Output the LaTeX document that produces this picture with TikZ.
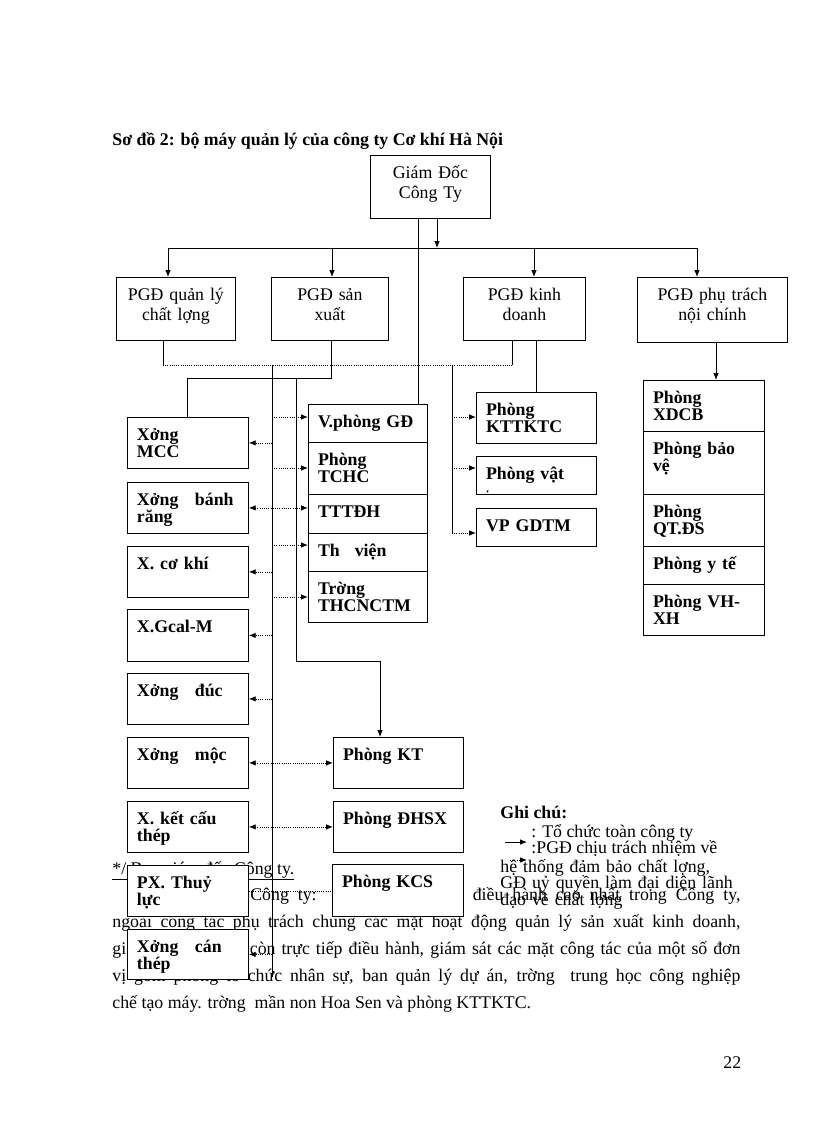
\documentclass[tikz,border=0pt]{standalone}
\usepackage{fontspec}
\setmainfont{Liberation Serif}
\usetikzlibrary{arrows.meta}

\def\h{0.7302pt}
\def\punkt#1#2{({(#1)*\h},{-(#2)*\h})}

\tikzset{
  hop/.style={draw, fill=white, anchor=north west, align=left, inner xsep=7pt, inner ysep=0pt,
    text height=16.8pt, font=\fontsize{13}{12.8}\selectfont\bfseries},
  pgd/.style={hop, align=center, font=\fontsize{13}{14.5}\selectfont},
  chu/.style={inner sep=0pt, anchor=base west, font=\fontsize{13}{12.4}\selectfont},
  nhanh/.style={densely dotted},
}

% style, name, x, y, width, height, text
\newcommand\khoi[7]{%
  \pgfmathsetlengthmacro\kw{(#5)*\h-14pt}%
  \pgfmathsetlengthmacro\kd{(#6)*\h-16.8pt}%
  \node[#1, text width=\kw, text depth=\kd] (#2) at \punkt{#3}{#4} {#7};}
% name, x, y
\newcommand\diem[3]{\path \punkt{#2}{#3} coordinate (#1);}

\begin{document}
\begin{tikzpicture}[>={Latex[length=5pt,width=4pt]}, line width=0.6pt]
\useasboundingbox \punkt{0}{0} rectangle \punkt{816}{1123};

\node[chu, font=\fontsize{13}{13}\selectfont\bfseries] (tieude) at \punkt{112}{146}
  {Sơ đồ 2: bộ máy quản lý của công ty Cơ khí Hà Nội};

% van ban duoi so do
\pgfmathsetlengthmacro\vbw{628*\h}
\node[chu, text width=\vbw, align=justify, font=\fontsize{13}{19.7}\selectfont] (vanban) at \punkt{112}{874}
  {\underline{*/ Ban giám đốc Công ty.}\par
   \hspace*{40pt}Giám đốc Công ty: là ngời có quyền điều hành cao nhất trong Công ty,\linebreak
   ngoài công tác phụ trách chung các mặt hoạt động quản lý sản xuất kinh doanh,\linebreak
   giám đốc Công ty còn trực tiếp điều hành, giám sát các mặt công tác của một số đơn\linebreak
   vị gồm phòng tổ chức nhân sự, ban quản lý dự án, trờng\ \ trung học công nghiệp\linebreak
   chế tạo máy. trờng\ \ mần non Hoa Sen và phòng KTTKTC.};

% ghi chu
\node[chu, font=\fontsize{13}{13}\selectfont\bfseries] (ghichu) at \punkt{500}{818} {Ghi chú:};
\node[chu] (gc1) at \punkt{531}{837} {: Tổ chức toàn công ty};
\node[chu] (gc2) at \punkt{531}{853} {:PGĐ chịu trách nhiệm về};
\pgfmathsetlengthmacro\gcw{260*\h}
\node[chu, text width=\gcw, align=left] (gc3) at \punkt{500}{872}
  {hệ thống đảm bảo chất lợng,\\GĐ uỷ quyền làm đại diện lãnh\\đạo về chất lợng};
\diem{mt1}{505}{842}
\diem{mt2}{527}{842}
\draw[->] (mt1) -- (mt2);
\diem{mt3}{510}{860}
\diem{mt4}{527}{860}
\draw[nhanh,->] (mt3) -- (mt4);

\node[chu] (trang) at \punkt{723}{1068} {22};

% lanh dao
\khoi{pgd}{gd}{370}{155}{120}{63}{Giám Đốc\\Công Ty}
\khoi{pgd}{pgd1}{116}{277}{119}{63}{PGĐ quản lý\\ chất lợng}
\khoi{pgd}{pgd2}{271}{277}{117}{63}{PGĐ sản\\xuất}
\khoi{pgd}{pgd3}{463}{277}{122}{63}{PGĐ kinh\\doanh}
\khoi{pgd}{pgd4}{637}{277}{150}{65}{PGĐ phụ trách\\nội chính}

% cac xuong
\khoi{hop}{mcc}{127}{417}{121}{51}{Xởng\\MCC}
\khoi{hop}{br}{127}{482}{121}{51}{Xởng\hspace{12pt}bánh\\răng}
\khoi{hop}{ck}{127}{546}{121}{51}{X. cơ khí}
\khoi{hop}{gcal}{127}{609}{121}{52}{X.Gcal-M}
\khoi{hop}{duc}{127}{673}{121}{51}{Xởng\hspace{12pt}đúc}
\khoi{hop}{moc}{127}{737}{121}{51}{Xởng\hspace{12pt}mộc}
\khoi{hop}{kc}{127}{801}{121}{51}{X. kết cấu\\thép}
\khoi{hop}{px}{127}{865}{121}{51}{PX. Thuỷ\\lực}
\khoi{hop}{can}{127}{929}{121}{50}{Xởng\hspace{12pt}cán\\thép}

% cot giua
\khoi{hop}{vp}{308}{404}{119}{38}{V.phòng GĐ}
\khoi{hop}{tchc}{308}{442}{119}{52}{Phòng\\TCHC}
\khoi{hop}{tt}{308}{494}{119}{39}{TTTĐH}
\khoi{hop}{tv}{308}{533}{119}{38}{Th\hspace{11pt}viện}
\khoi{hop}{tr}{308}{571}{119}{51}{Trờng\\THCNCTM}

\khoi{hop}{kt}{333}{737}{130}{51}{Phòng KT}
\khoi{hop}{dhsx}{333}{801}{130}{51}{Phòng ĐHSX}
\khoi{hop}{kcs}{332}{864}{131}{52}{Phòng KCS}

% kinh doanh
\khoi{hop}{kttktc}{476}{392}{120}{51}{Phòng\\KTTKTC}
\khoi{hop}{vat}{476}{456}{120}{38}{Phòng vật\\{\fontsize{7}{7}\selectfont ‘}}
\khoi{hop}{vpgdtm}{476}{508}{120}{38}{VP GDTM}

% noi chinh
\khoi{hop}{xdcb}{643}{380}{121}{51}{Phòng\\XDCB}
\khoi{hop}{bv}{643}{431}{121}{63}{Phòng bảo\\vệ}
\khoi{hop}{qt}{643}{494}{121}{52}{Phòng\\QT.ĐS}
\khoi{hop}{yt}{643}{546}{121}{38}{Phòng y tế}
\khoi{hop}{vh}{643}{584}{121}{51}{Phòng VH-\\XH}

% giam doc xuong cac PGD
\diem{tA}{418}{0}
\diem{tB}{437}{248}
\draw (gd.south -| tA) -- (vp.north -| tA);
\draw[->] (gd.south -| tB) -- (tB);
\diem{k1}{168}{248}
\diem{k2}{332}{248}
\diem{k3}{534}{248}
\diem{k4}{697}{248}
\draw (k1) -- (k4);
\draw[->] (k1) -- (k1 |- pgd1.north);
\draw[->] (k2) -- (k2 |- pgd2.north);
\draw[->] (k3) -- (k3 |- pgd3.north);
\draw[->] (k4) -- (k4 |- pgd4.north);

% chat luong
\diem{c1}{163}{365}
\diem{c2}{512}{365}
\draw (pgd1.south -| c1) -- (c1);
\draw[nhanh] (c1) -- (c2);
\draw (c2) -- (pgd3.south -| c2);
\diem{tL}{272}{365}
\diem{tLd}{272}{977}
\draw (tL) -- (tLd);
\diem{tR}{452}{365}
\diem{tRd}{452}{533}
\draw (tR) -- (tRd);

% san xuat
\diem{s1}{331}{378}
\diem{s2}{187}{378}
\draw (pgd2.south -| s1) -- (s1) -- (s2) -- (s2 |- mcc.north);
\diem{s3}{296}{378}
\diem{s4}{296}{661}
\diem{s5}{380}{661}
\draw[->] (s3) -- (s4) -- (s5) -- (s5 |- kt.north);

% kinh doanh, noi chinh
\diem{kd}{536}{0}
\draw (pgd3.south -| kd) -- (kttktc.north -| kd);
\diem{nc}{716}{0}
\draw[->] (pgd4.south -| nc) -- (xdcb.north -| nc);

% nhanh cham
\foreach \o in {mcc,ck,gcal,duc,can}
  \draw[nhanh,->] (\o.east -| tL) -- (\o.east);
\draw[nhanh,<->] (br.east) -- (br.east -| tt.west);
\draw[nhanh,<->] (moc.east) -- (moc.east -| kt.west);
\draw[nhanh,<->] (kc.east) -- (kc.east -| dhsx.west);
\draw[nhanh] (px.east) -- (px.east -| kcs.west);

\diem{m1}{272}{417}
\diem{m2}{272}{468}
\diem{m4}{272}{545}
\diem{m5}{272}{597}
\draw[nhanh,->] (m1) -- (m1 -| vp.west);
\draw[nhanh,->] (m2) -- (m2 -| tchc.west);
\draw[nhanh,->] (m4) -- (m4 -| tv.west);
\draw[nhanh,->] (m5) -- (m5 -| tr.west);

\diem{n1}{452}{417}
\diem{n2}{452}{468}
\draw[nhanh,->] (n1) -- (n1 -| kttktc.west);
\draw[nhanh,->] (n2) -- (n2 -| vat.west);
\draw[nhanh,->] (tRd) -- (tRd -| vpgdtm.west);

\end{tikzpicture}
\end{document}
